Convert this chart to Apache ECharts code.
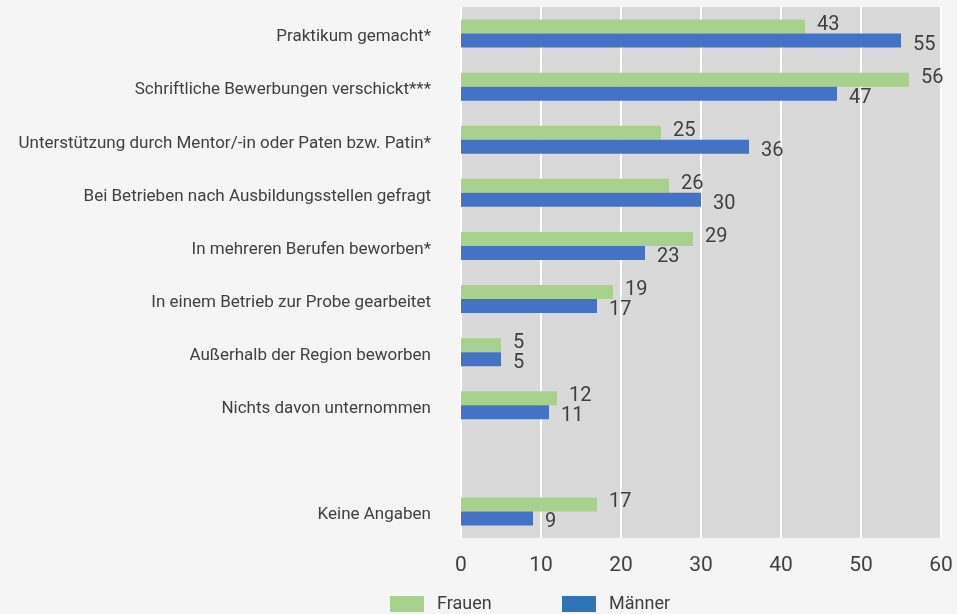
<!DOCTYPE html>
<html>
<head>
<meta charset="utf-8">
<script src="https://cdn.jsdelivr.net/npm/echarts@6/dist/echarts.min.js"></script>
<style>
  html, body { margin: 0; padding: 0; background: #f5f5f5; }
  #main { width: 957px; height: 614px; }
</style>
</head>
<body>
<div id="main"></div>
<script>
// Kategorien (leere Zeile vor "Keine Angaben" ist Absicht)
const categories = [
  'Praktikum gemacht*',
  'Schriftliche Bewerbungen verschickt***',
  'Unterstützung durch Mentor/-in oder Paten bzw. Patin*',
  'Bei Betrieben nach Ausbildungsstellen gefragt',
  'In mehreren Berufen beworben*',
  'In einem Betrieb zur Probe gearbeitet',
  'Außerhalb der Region beworben',
  'Nichts davon unternommen',
  '',
  'Keine Angaben'
]
const frauen = [43, 56, 25, 26, 29, 19, 5, 12, null, 17]
const maenner = [55, 47, 36, 30, 23, 17, 5, 11, null, 9]
const xTicks = [0, 10, 20, 30, 40, 50, 60]

const font = 'Roboto, "Liberation Sans", sans-serif'
const textColor = '#404040'

function txt(size) {
  return {
    fontFamily: font,
    fontSize: size,
    color: textColor,
  }
}

const chart = echarts.init(document.getElementById('main'))
const option = {
  backgroundColor: '#f5f5f5',
  animation: false,
  textStyle: txt(18),
  grid: {
    left: 461,
    right: 16,
    top: 7,
    bottom: 76,
    containLabel: false,
    outerBoundsMode: 'none',
    show: true,
    backgroundColor: '#d9d9d9',
    borderWidth: 0,
  },
  legend: [
    {
      left: 390,
      top: 595,
      padding: 0,
      itemWidth: 34,
      itemHeight: 16,
      icon: 'rect',
      textStyle: Object.assign(txt(18), { padding: [0, 0, 0, 8] }),
      data: [{ name: 'Frauen', itemStyle: { color: '#a9d18e' } }],
    },
    {
      left: 562,
      top: 595,
      padding: 0,
      itemWidth: 34,
      itemHeight: 16,
      icon: 'rect',
      textStyle: Object.assign(txt(18), { padding: [0, 0, 0, 8] }),
      data: [{ name: 'Männer', itemStyle: { color: '#2e75b6' } }],
    },
  ],
  xAxis: {
    type: 'value',
    min: xTicks[0],
    max: xTicks[xTicks.length - 1],
    interval: 10,
    axisLine: { show: false },
    axisTick: { show: false },
    axisLabel: Object.assign(txt(21), { margin: 17, showMaxLabel: true }),
    splitLine: { show: true, lineStyle: { color: '#ffffff', width: 2 } },
  },
  yAxis: {
    type: 'category',
    inverse: true,
    data: categories,
    axisLine: { show: false },
    axisTick: { show: false },
    axisLabel: Object.assign(txt(17), {
      margin: 30,
      // etwas unter die Balkenmitte schieben
      formatter: (v) => (v ? '{c|' + v + '}' : ''),
      rich: { c: Object.assign(txt(17), { padding: [7, 0, 0, 0] }) },
    }),
  },
  series: [
    {
      name: 'Frauen',
      type: 'bar',
      data: frauen,
      barWidth: 14,
      barGap: '0%',
      itemStyle: { color: '#a9d18e' },
      label: Object.assign(txt(20), {
        show: true,
        position: 'right',
        distance: 12,
        offset: [0, -2],
      }),
    },
    {
      name: 'Männer',
      type: 'bar',
      data: maenner,
      barWidth: 14,
      barGap: '0%',
      itemStyle: { color: '#4472c4' },
      label: Object.assign(txt(20), {
        show: true,
        position: 'right',
        distance: 12,
        offset: [0, 4],
      }),
    },
  ],
}
chart.setOption(option)
</script>
</body>
</html>
